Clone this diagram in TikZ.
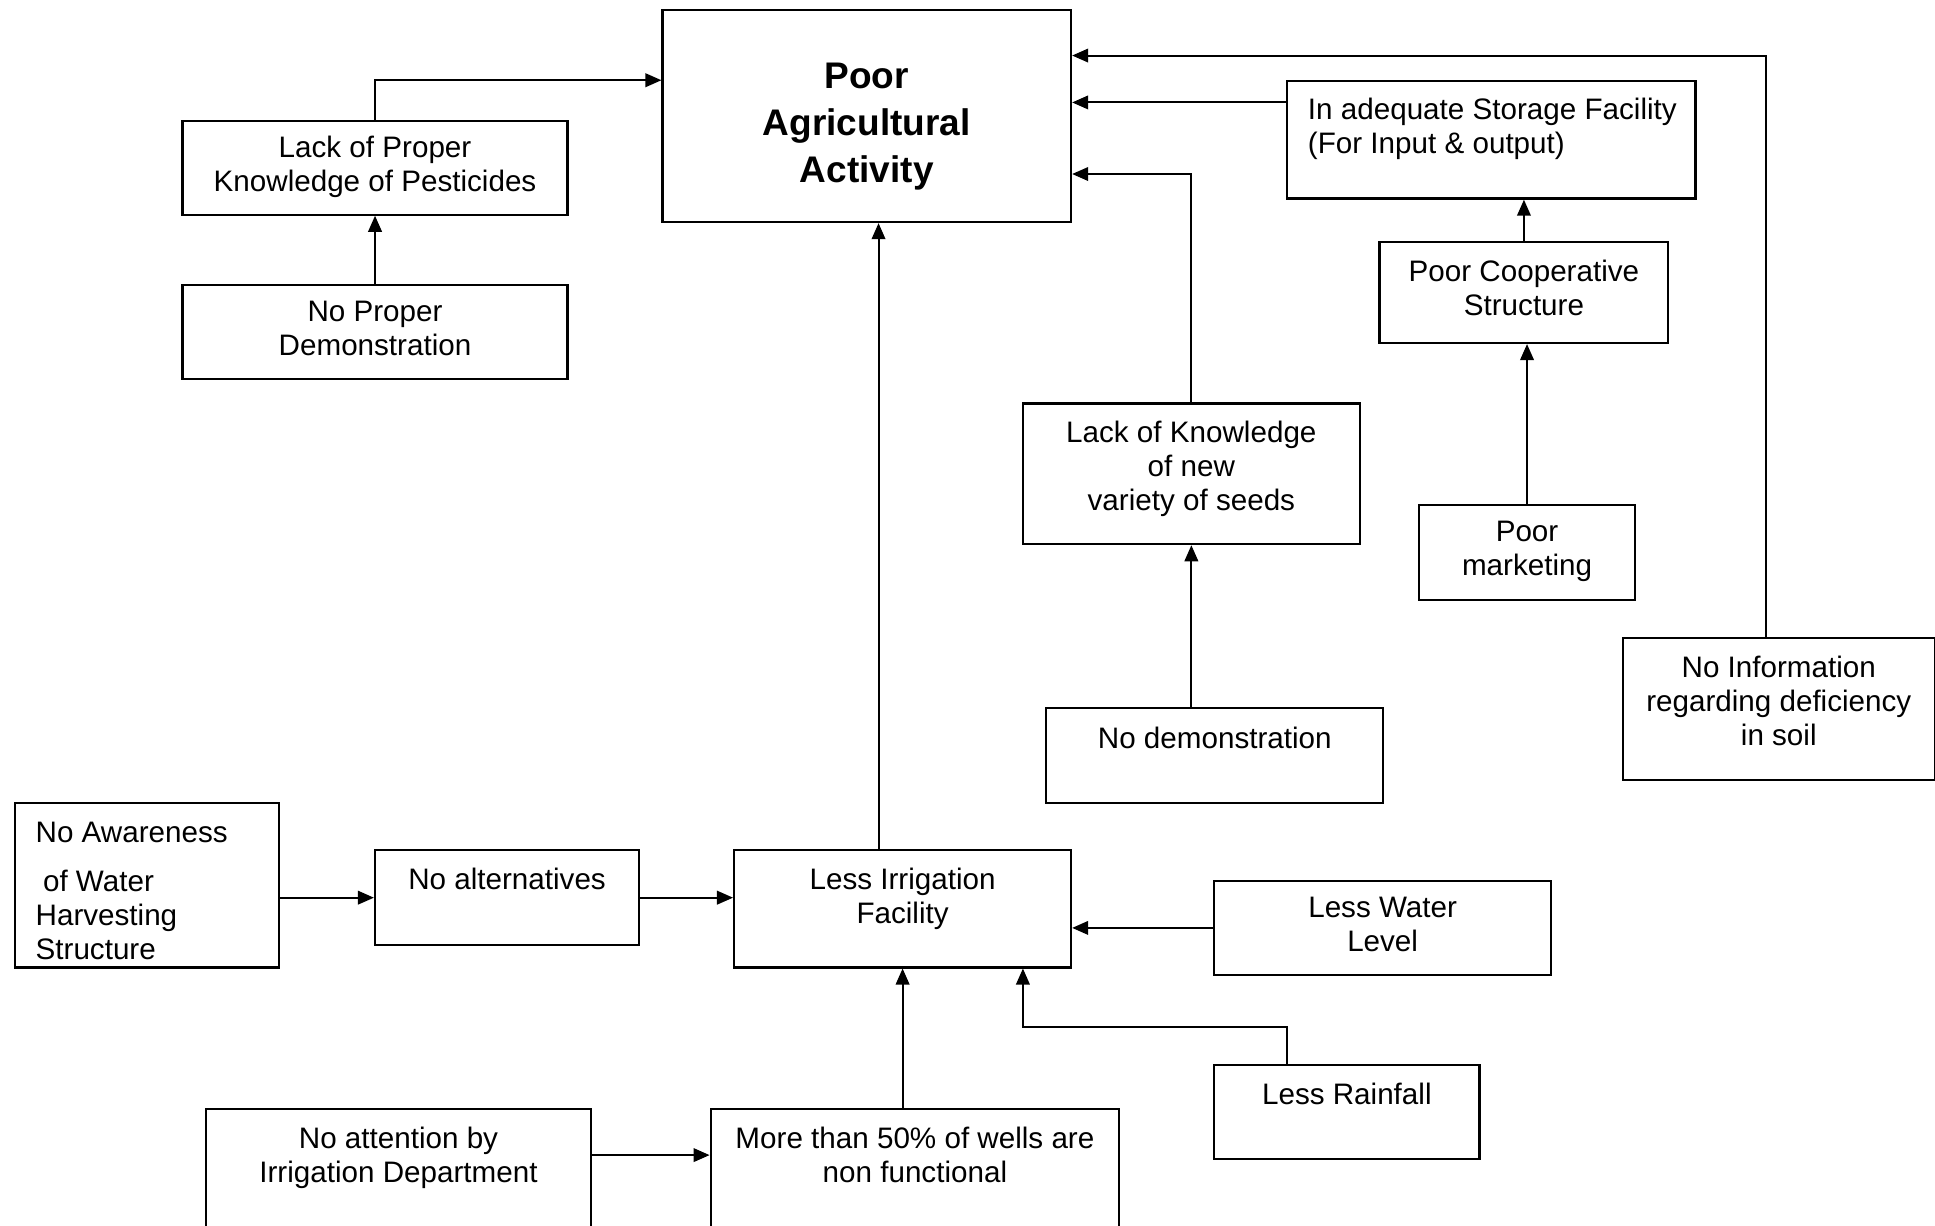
\documentclass[tikz,border=0pt]{standalone}
\usepackage{fontspec}
\setmainfont{Liberation Sans}
\usetikzlibrary{arrows.meta}
% box contents: width, height, (top gap), text
\newcommand{\blkc}[3]{\parbox[c][#2][c]{#1}{\centering\strut #3\strut}}
\newcommand{\blkt}[4]{\parbox[c][#2][t]{#1}{\vspace*{#3}\centering\strut #4\strut}}
\newcommand{\blkl}[4]{\parbox[c][#2][t]{#1}{\vspace*{#3}\raggedright\leftskip=8.5pt\strut #4\strut}}

\begin{document}
\begin{tikzpicture}[x=0.5pt,y=-0.5pt,
  blk/.style={draw,line width=0.9pt,inner sep=0pt,anchor=north west,font=\fontsize{12}{13.8}\selectfont},
  arr/.style={line width=0.8pt,-{Triangle[length=6.5pt,width=5.5pt]}}]
\useasboundingbox (0,0) rectangle (1568,993);
\clip (0,0) rectangle (1568,993);
% top row
\node[blk,font=\fontsize{15}{19}\selectfont\bfseries] (main) at (536,7) {\blkt{165.5pt}{86pt}{18.5pt}{Poor\\Agricultural\\Activity}};
\node[blk] (pest) at (147,97) {\blkc{156pt}{38pt}{Lack of Proper\\Knowledge of Pesticides}};
\node[blk] (nodemo) at (147,230) {\blkc{156pt}{38pt}{No Proper\\Demonstration}};
\node[blk] (store) at (1042,65) {\blkl{165.5pt}{47.5pt}{5.9pt}{In adequate Storage Facility\\(For Input \& output)}};
\node[blk] (coop) at (1117,195) {\blkt{117pt}{41pt}{6.3pt}{Poor Cooperative\\Structure}};
\node[blk] (market) at (1149,408) {\blkc{87.5pt}{38.5pt}{Poor\\marketing}};
\node[blk] (seeds) at (828,326) {\blkt{136.5pt}{57pt}{6pt}{Lack of Knowledge\\of new\\variety of seeds}};
\node[blk] (nodemo2) at (847,573) {\blkt{136.5pt}{38.5pt}{6.6pt}{No demonstration}};
\node[blk] (soil) at (1314,516) {\blkt{126.5pt}{57.5pt}{6.3pt}{No Information\\regarding deficiency\\in soil}};
% irrigation part
\node[blk] (aware) at (11,650) {\blkl{107pt}{66.5pt}{6.3pt}{No Awareness\\[6pt]\hspace*{3pt}of Water\\Harvesting\\Structure}};
\node[blk] (noalt) at (303,688) {\blkt{107pt}{38.5pt}{6.3pt}{No alternatives}};
\node[blk] (irrig) at (594,688) {\blkt{136.5pt}{47.5pt}{6.3pt}{Less Irrigation\\Facility}};
\node[blk] (water) at (983,713) {\blkc{136.5pt}{38pt}{Less Water\\Level}};
\node[blk] (rain) at (983,862) {\blkt{107.5pt}{38pt}{6.3pt}{Less Rainfall}};
\node[blk] (noatt) at (166,898) {\blkt{156pt}{65pt}{6.3pt}{No attention by\\Irrigation Department}};
\node[blk] (wells) at (575,898) {\blkt{165.5pt}{65pt}{6.3pt}{More than 50\% of wells are\\non functional}};
% arrows
\draw[arr] (pest.north) |- ([yshift=-29pt]main.north west);
\draw[arr] (nodemo.north) -- (pest.south);
\draw[arr] ([yshift=-9pt]store.north west) -- ([yshift=-9pt]main.east |- store.north);
\draw[arr] ([xshift=-5pt]soil.north) |- ([yshift=-19pt]main.north east);
\draw[arr] (seeds.north) |- ([yshift=-67pt]main.north east);
\draw[arr] (coop.north) -- (coop.north |- store.south);
\draw[arr] (market.north) -- (market.north |- coop.south);
\draw[arr] (seeds.south |- nodemo2.north) -- (seeds.south);
\draw[arr] ([xshift=-9.75pt]irrig.north) -- ([xshift=-9.75pt]irrig.north |- main.south);
\draw[arr] (aware.east |- noalt.west) -- (noalt.west);
\draw[arr] (noalt.east) -- (noalt.east -| irrig.west);
\draw[arr] (water.west) -- (water.west -| irrig.east);
\draw[arr] ([xshift=-24.25pt]rain.north) |- ([xshift=48.75pt,yshift=-23.5pt]irrig.south) -- ([xshift=48.75pt]irrig.south);
\draw[arr] (irrig.south |- wells.north) -- (irrig.south);
\draw[arr] ([yshift=-19pt]noatt.north east) -- ([yshift=-19pt]wells.north west);
\end{tikzpicture}
\end{document}
